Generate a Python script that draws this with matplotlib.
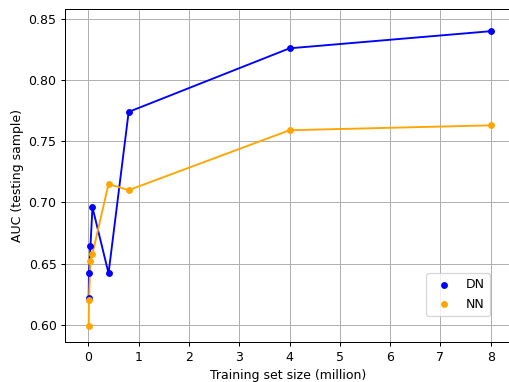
import matplotlib
matplotlib.use("Agg")
import matplotlib.pyplot as plt

dn_x = [0.005, 0.01, 0.04, 0.08, 0.4, 0.8, 4, 8]
dn_y = [0.622, 0.642, 0.664, 0.696, 0.642, 0.774, 0.826, 0.840]
nn_x = [0.005, 0.01, 0.04, 0.08, 0.4, 0.8, 4, 8]
nn_y = [0.599, 0.620, 0.652, 0.658, 0.715, 0.710, 0.759, 0.763]

W, H = 509, 382
DPI = 90
fig = plt.figure(figsize=(W / DPI, H / DPI), dpi=DPI)
l, r, t, b = 65.3, 510.8, 8.7, 342
ax = fig.add_axes([l / W, 1 - b / H, (r - l) / W, (b - t) / H])

ax.plot(dn_x, dn_y, color="blue", lw=1.5, zorder=2)
ax.scatter(dn_x, dn_y, color="blue", s=20, label="DN", zorder=3)
ax.plot(nn_x, nn_y, color="orange", lw=1.5, zorder=2)
ax.scatter(nn_x, nn_y, color="orange", s=20, label="NN", zorder=3)

ax.set_xlim(-0.46, 8.4)
ax.set_ylim(0.5858, 0.8584)
ax.set_xticks(range(0, 9))
ax.set_yticks([0.60, 0.65, 0.70, 0.75, 0.80, 0.85])
ax.grid(True, color="#b0b0b0", lw=0.8)
ax.set_axisbelow(True)
ax.set_xlabel("Training set size (million)")
ax.set_ylabel("AUC (testing sample)")
ax.legend(loc="lower right", bbox_to_anchor=(490 / W, 1 - 315.7 / H),
          bbox_transform=fig.transFigure, borderaxespad=0)

fig.savefig("out.png", dpi=DPI)
